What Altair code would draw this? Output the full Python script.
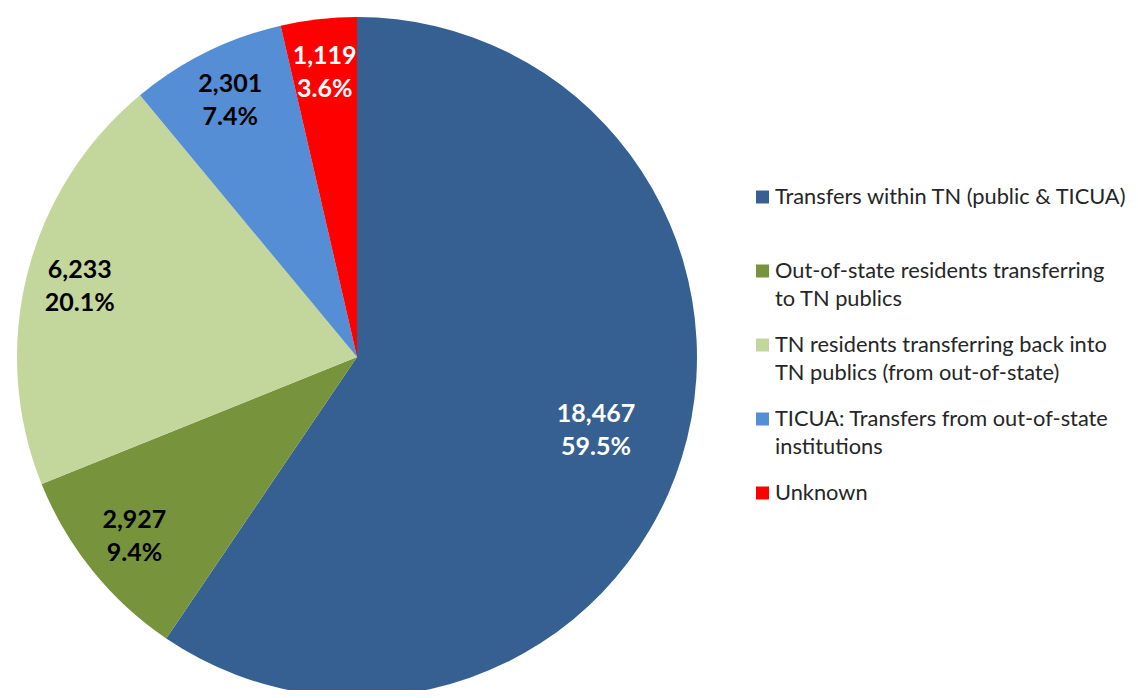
import altair as alt
import pandas as pd

categories = [
    "Transfers within TN (public & TICUA)",
    "Out-of-state residents transferring to TN publics",
    "TN residents transferring back into TN publics (from out-of-state)",
    "TICUA: Transfers from out-of-state institutions",
    "Unknown",
]
legend_labels = [
    "Transfers within TN (public & TICUA)",
    "Out-of-state residents transferring\nto TN publics",
    "TN residents transferring back into\nTN publics (from out-of-state)",
    "TICUA: Transfers from out-of-state\ninstitutions",
    "Unknown",
]
values = [18467, 2927, 6233, 2301, 1119]
percents = ["59.5%", "9.4%", "20.1%", "7.4%", "3.6%"]
colors = ["#376092", "#77933C", "#C3D69B", "#558ED5", "#FF0000"]
label_colors = ["white", "black", "black", "black", "white"]

df = pd.DataFrame({
    "idx": list(range(len(categories))),
    "category": categories,
    "legend": legend_labels,
    "value": values,
    "pct": percents,
    "tc": label_colors,
})

FONT = "Lato"
base = alt.Chart(df)

color = alt.Color("category:N", scale=alt.Scale(domain=categories, range=colors), legend=None)

arcs = base.mark_arc(outerRadius=340).encode(
    theta=alt.Theta("value:Q", stack=True),
    order=alt.Order("idx:Q"),
    color=color,
    x=alt.value(349),
    y=alt.value(349),
)

labels = base.transform_calculate(
    txt="format(datum.value, ',') + '\\n' + datum.pct",
).mark_text(
    font=FONT, fontSize=25, fontWeight="bold", lineBreak="\n", lineHeight=33,
    baseline="middle", align="center", dy=-16.5,
    radius=alt.ExprRef(expr="datum.value > 10000 ? 250 : 286"),
).encode(
    theta=alt.Theta("value:Q", stack=True),
    order=alt.Order("idx:Q"),
    text="txt:N",
    color=alt.condition("datum.tc == 'white'", alt.value("white"), alt.value("black")),
    x=alt.value(349),
    y=alt.value(349),
)

ly = alt.Y("idx:Q", scale=alt.Scale(domain=[0, 4], range=[189, 485]), axis=None)

squares = base.mark_square(size=169, opacity=1).encode(
    x=alt.value(754.5),
    y=ly,
    color=color,
)

legend_text = base.transform_calculate(
    off="indexof(datum.legend, '\\n') >= 0 ? 14 : 0"
).mark_text(
    font=FONT, fontSize=21.8, align="left", baseline="middle", lineBreak="\n",
    lineHeight=28, color="#262626",
).encode(
    x=alt.value(767),
    y=ly,
    yOffset=alt.YOffset("off:Q", scale=None),
    text="legend:N",
)

chart = alt.layer(arcs, labels, squares, legend_text).properties(
    width=1122, height=682, padding=0, autosize="none", background="white"
).configure_view(stroke=None)

chart.save("out.html", embed_options={"renderer": "svg", "actions": False})
